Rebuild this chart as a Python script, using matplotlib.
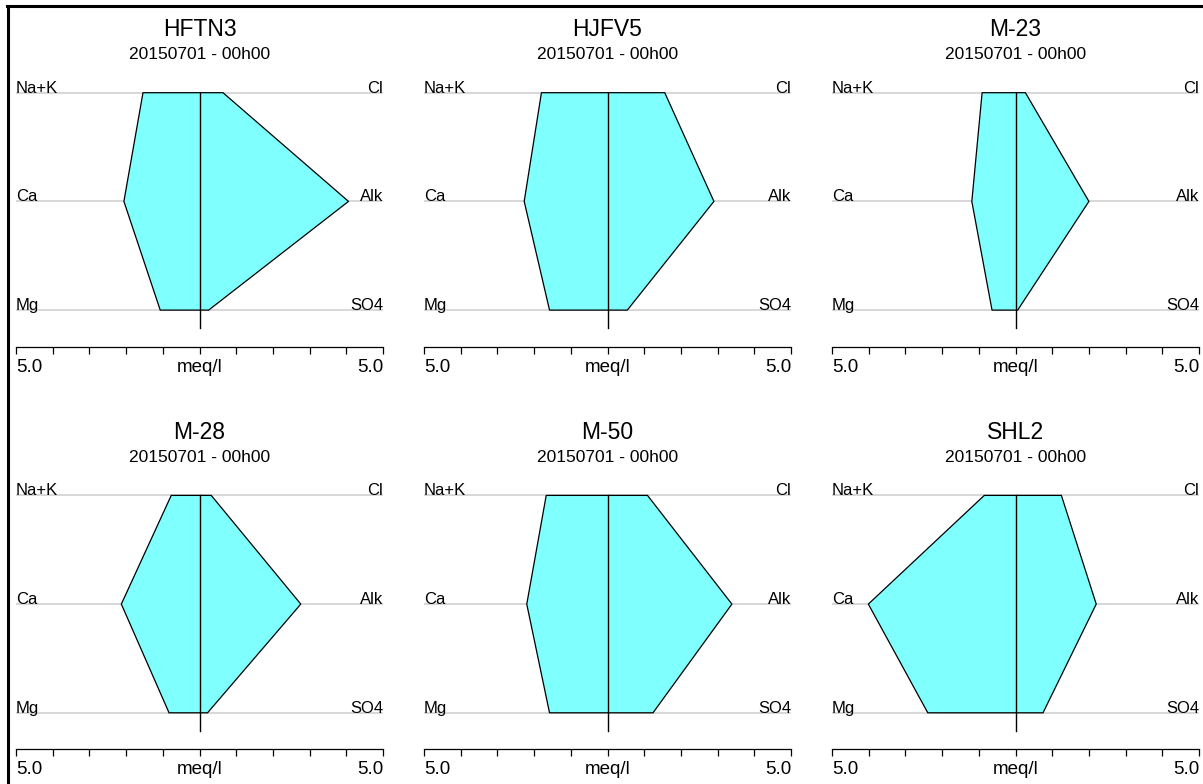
import matplotlib
matplotlib.use('Agg')
import matplotlib.pyplot as plt
from matplotlib.lines import Line2D

plt.rcParams['font.family'] = ['Liberation Sans', 'DejaVu Sans']

# Stiff diagram data, meq/l
stations = ['HFTN3', 'HJFV5', 'M-23', 'M-28', 'M-50', 'SHL2']
date_label = '20150701 - 00h00'
cations = ['Na+K', 'Ca', 'Mg']
anions = ['Cl', 'Alk', 'SO4']

na_k = [1.54, 1.80, 0.91, 0.77, 1.67, 0.85]
ca = [2.06, 2.27, 1.19, 2.13, 2.20, 4.01]
mg = [1.07, 1.58, 0.64, 0.83, 1.58, 2.39]
cl = [0.64, 1.56, 0.27, 0.32, 1.09, 1.25]
alk = [4.06, 2.90, 2.00, 2.76, 3.39, 2.20]
so4 = [0.25, 0.54, 0.06, 0.22, 1.24, 0.75]

scale_max = 5.0

W, H = 1203, 784
fig = plt.figure(figsize=(W / 100, H / 100), dpi=100)

row_px = 108.7     # pixels per row step
y_top, y_bot = -0.7, 2.5

for i, name in enumerate(stations):
    c, r = i % 3, i // 3
    left = 16 + 408 * c
    top_row = 92.7 + 402.7 * r
    bottom_px = top_row + y_bot * row_px
    ax = fig.add_axes([left / W, 1 - bottom_px / H, 367 / W,
                       (y_bot - y_top) * row_px / H])
    ax.set_xlim(-scale_max, scale_max)
    ax.set_ylim(y_bot, y_top)

    rows = range(len(cations))
    for k in rows:
        ax.plot([-scale_max, scale_max], [k, k], color='#d4d4d4', lw=1.3,
                zorder=1)
        ax.text(-scale_max, k, cations[k], ha='left', va='baseline',
                fontsize=12)
        ax.text(scale_max, k, anions[k], ha='right', va='baseline',
                fontsize=12)

    xs = [-na_k[i], -ca[i], -mg[i], so4[i], alk[i], cl[i]]
    ys = [0, 1, 2, 2, 1, 0]
    ax.fill(xs, ys, facecolor='#80ffff', edgecolor='black', lw=0.9,
            zorder=2)
    ax.plot([0, 0], [0, 2.165], color='black', lw=1.0, zorder=3)

    ax.text(0, -0.58, name, ha='center', va='center', fontsize=16.5)
    ax.text(0, -0.35, date_label, ha='center', va='center', fontsize=12.5)

    for s in ['top', 'left', 'right']:
        ax.spines[s].set_visible(False)
    ax.spines['bottom'].set_position(('data', 2.337))
    ax.spines['bottom'].set_linewidth(0.9)
    ax.set_yticks([])
    ax.set_xticks([-5, 0, 5], labels=['5.0', 'meq/l', '5.0'])
    ax.set_xticks([-4, -3, -2, -1, 1, 2, 3, 4], minor=True)
    ax.tick_params(axis='x', which='both', direction='out', length=5,
                   width=0.9, labelsize=13.5, pad=3.5)
    labels = ax.get_xticklabels()
    labels[0].set_ha('left')
    labels[2].set_ha('right')
    ax.patch.set_visible(False)

# frame edges at the left and top of the picture
fig.add_artist(Line2D([7.7 / W, 7.7 / W], [0, 1 - 5.5 / H],
                      transform=fig.transFigure, color='black', lw=2.2))
fig.add_artist(Line2D([6.6 / W, 1], [1 - 5.8 / H, 1 - 5.8 / H],
                      transform=fig.transFigure, color='black', lw=2.2))

fig.savefig('out.png', dpi=100)
